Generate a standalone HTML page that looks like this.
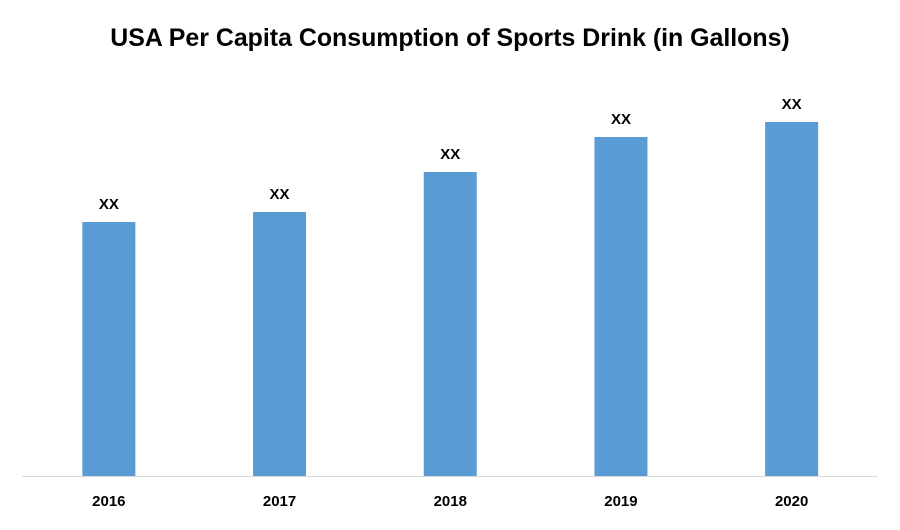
<!DOCTYPE html>
<html><head><meta charset="utf-8"><style>
body{margin:0;background:#fff;}
svg text{font-family:"Liberation Sans",Arial,sans-serif;font-weight:bold;fill:#000;}
</style></head><body>
<svg id="chart" width="900" height="525">
<text x="450" y="46" text-anchor="middle" font-size="24.9">USA Per Capita Consumption of Sports Drink (in Gallons)</text>
<line x1="22" y1="476.5" x2="878" y2="476.5" stroke="#d9d9d9" stroke-width="1"/>
<g id="bars"></g>
</svg>
<script>
const categories=["2016","2017","2018","2019","2020"];
const values=[254,264,304,339,354];
const valueLabels=["XX","XX","XX","XX","XX"];
const left=23.5,right=877,base=476,bw=53;
const step=(right-left)/categories.length;
function xCenter(i){return left+step*(i+0.5);}
function y(v){return base-v;}
const g=document.getElementById('bars');
const ns='http://www.w3.org/2000/svg';
categories.forEach((c,i)=>{
  const r=document.createElementNS(ns,'rect');
  r.setAttribute('x',xCenter(i)-bw/2);r.setAttribute('y',y(values[i]));
  r.setAttribute('width',bw);r.setAttribute('height',base-y(values[i]));
  r.setAttribute('fill','#5b9bd5');
  
  
  g.appendChild(r);
  const t=document.createElementNS(ns,'text');
  t.setAttribute('x',xCenter(i));t.setAttribute('y',y(values[i])-13);
  t.setAttribute('text-anchor','middle');t.setAttribute('font-size','15');
  t.textContent=valueLabels[i];
  
  
  g.appendChild(t);
  const l=document.createElementNS(ns,'text');
  l.setAttribute('x',xCenter(i));l.setAttribute('y',506);
  l.setAttribute('text-anchor','middle');l.setAttribute('font-size','15');
  l.textContent=c;
  
  
  g.appendChild(l);
});
</script>
</body></html>
